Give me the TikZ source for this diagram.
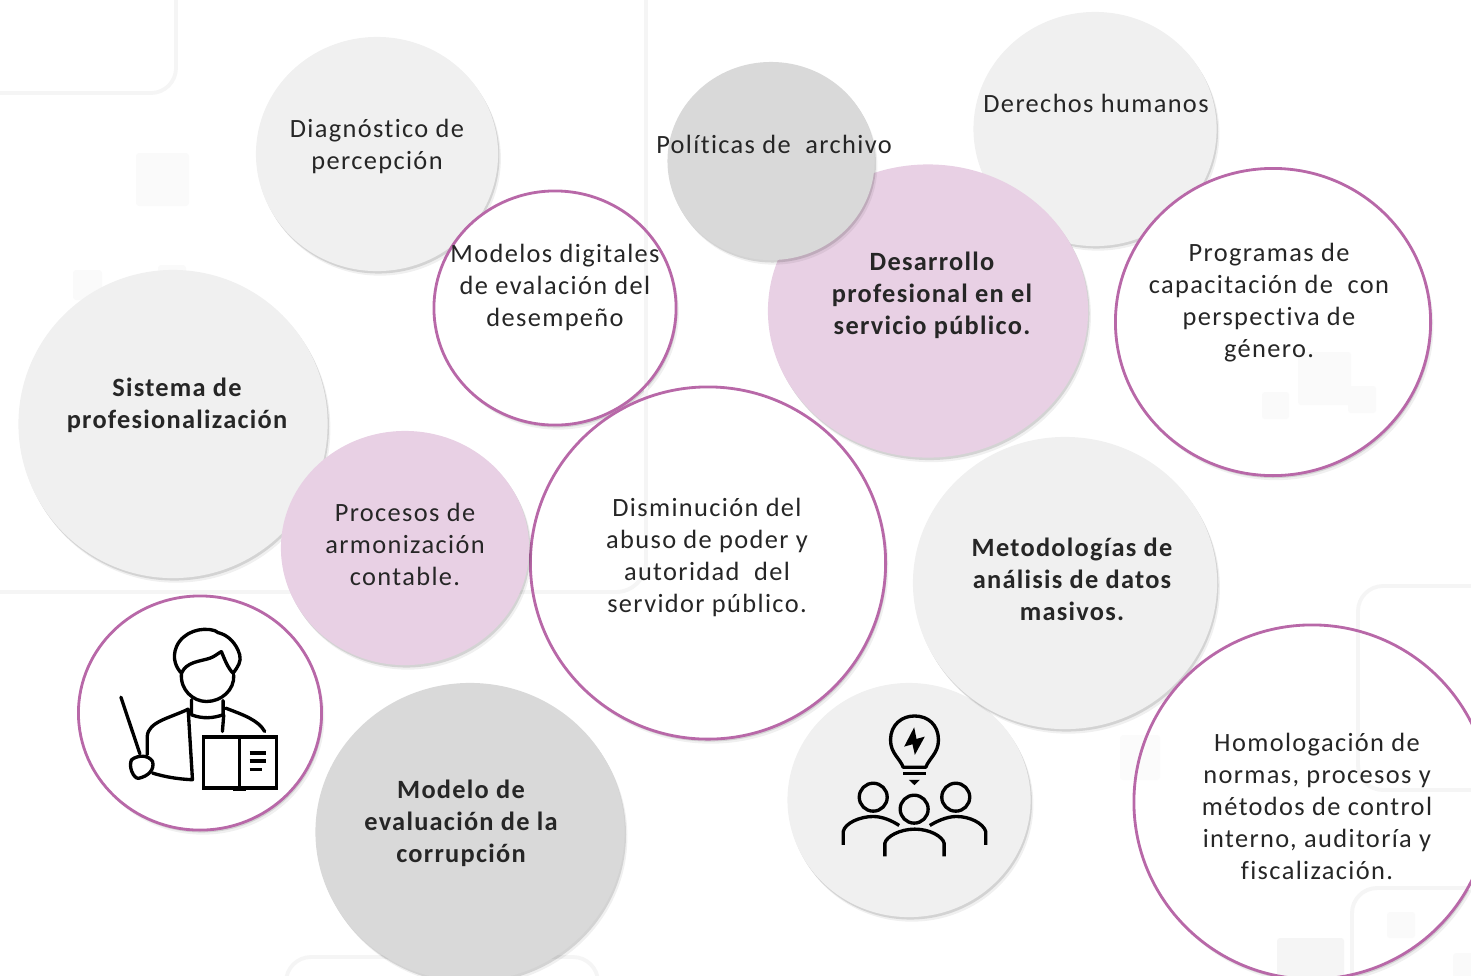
\documentclass[tikz,border=0pt]{standalone}
\usepackage{fontspec}
\setmainfont[LetterSpace=5.2,Ligatures=CommonOff,BoldFeatures={LetterSpace=4.8}]{Carlito}
\usetikzlibrary{shapes}
\usetikzlibrary{shadows}
\definecolor{bubgray}{HTML}{F0F0F0}
\definecolor{bubdark}{HTML}{D9D9D9}
\definecolor{bubpink}{HTML}{E8D0E4}
\definecolor{bubline}{HTML}{B868A8}
\definecolor{txtdark}{HTML}{262626}
\tikzset{
    softshadow/.style = {drop shadow={shadow xshift=.8pt,shadow yshift=-1.3pt,opacity=.06,fill=black},
                         drop shadow={shadow xshift=.4pt,shadow yshift=-.7pt,opacity=.12,fill=black}},
    bub/.style = {ellipse, inner sep=0pt, softshadow},
    bubg/.style = {bub, fill=bubgray},
    bubd/.style = {bub, fill=bubdark},
    bubp/.style = {bub, fill=bubpink},
    bubw/.style = {bub, fill=white},
    ring/.style = {ellipse, inner sep=0pt, draw=bubline, line width=.8pt},
    txt/.style = {align=center, inner sep=0pt, text=txtdark, font=\fontsize{7.5}{9.1}\selectfont},
    txtb/.style = {txt, font=\fontsize{7.5}{9.1}\selectfont\bfseries},
    bgline/.style = {draw=black!4, line width=1.1pt, rounded corners=.25cm},
    bgbox/.style = {fill=black!2, rounded corners=.03cm},
    icon/.style = {draw=black, line width=.95pt, line cap=round, line join=round},
    digisize/.style = {minimum width=2.42cm, minimum height=2.34cm},
    progsize/.style = {minimum width=3.15cm, minimum height=3.07cm},
    dismsize/.style = {minimum width=3.55cm, minimum height=3.52cm},
    homosize/.style = {minimum width=3.56cm, minimum height=3.54cm}
}
\newcommand{\bigcorner}{\path[bgline, rounded corners=.3cm] (-20,592) -- (646,592) -- (646,-20);}

\begin{document}
\begin{tikzpicture}[x=0.01cm,y=-0.01cm]
\useasboundingbox (0,0) rectangle (1471,975);
% background
\path[bgline] (-20,93) -- (176,93) -- (176,-20);
\path[bgline] (286,985) -- (286,957) -- (598,957) -- (598,985);
\fill[bgbox] (136,153) rectangle (189,206);
\fill[bgbox] (73,270) rectangle (102,300);
\fill[bgbox] (158,265) rectangle (186,280);
%
\node[bubg, minimum width=2.42cm, minimum height=2.34cm] at (377,154) (diag) {};
\node[bubw, digisize] at (555,308) (digi) {};
\bigcorner
\node[ring, digisize] at (555,308) (digir) {};
\node[bubg, minimum width=2.43cm, minimum height=2.34cm] at (1095,129) (dere) {};
\node[bubp, minimum width=3.20cm, minimum height=2.93cm] at (928,311) (desa) {};
\node[bubd, minimum width=2.07cm, minimum height=1.98cm] at (771,161) (poli) {};
\node[bubw, progsize] at (1273,322) (prog) {};
\fill[bgbox] (1298,352) rectangle (1351,405);
\fill[bgbox] (1262,392) rectangle (1289,419);
\fill[bgbox] (1348,386) rectangle (1376,413);
\node[ring, progsize] at (1273,322) (progr) {};
\node[bubg, minimum width=3.09cm, minimum height=3.08cm] at (173,424) (sist) {};
\node[bubg, minimum width=2.43cm, minimum height=2.34cm] at (909,800) (idea) {};
\node[bubw, dismsize] at (708,563) (dism) {};
\begin{scope}
\clip (708,563) ellipse (177.5 and 176);
\bigcorner
\end{scope}
\node[ring, dismsize] at (708,563) (dismr) {};
\node[bubp, minimum width=2.48cm, minimum height=2.34cm] at (405,548) (proc) {};
\node[bubg, minimum width=3.04cm, minimum height=2.92cm] at (1065,583) (meto) {};
\node[bubw, homosize] at (1312,802) (homo) {};
\fill[bgbox, fill=black!1.5] (1120,735) rectangle (1160,780);
\path[bgline] (1480,586) -- (1358,586) -- (1358,790) -- (1480,790);
\path[bgline] (1480,888) -- (1352,888) -- (1352,985);
\fill[bgbox] (1387,912) rectangle (1415,938);
\fill[bgbox] (1453,953) rectangle (1480,985);
\fill[bgbox, fill=black!4] (1277,938) rectangle (1344,985);
\node[ring, homosize] at (1312,802) (homor) {};
\node[bubw, digisize, minimum width=2.43cm] at (200,713) (doce) {};
\node[ring, digisize, minimum width=2.43cm] at (200,713) (docer) {};
\node[bubd, minimum width=3.09cm, minimum height=2.98cm] at (470,832) (mode) {};
%
\node[txt] at (377,146) (diagt) {Diagnóstico de\\percepción};
\node[txt] at (555,287) (digit) {Modelos digitales\\de evalación del\\desempeño};
\node[txt] at (774,144) (polit) {Políticas de\ \ archivo};
\node[txt] at (1096,103) (deret) {Derechos humanos};
\node[txtb] at (932,295) (desat) {Desarrollo\\profesional en el\\servicio público.};
\node[txt] at (1269,303) (progt) {Programas de\\capacitación de\ \ con\\perspectiva de\\género.};
\node[txtb] at (177,405) (sistt) {Sistema de\\profesionalización};
\node[txt] at (405,544) (proct) {Procesos de\\armonización\\contable.};
\node[txt] at (707,557) (dismt) {Disminución del\\abuso de poder y\\autoridad\ \ del\\servidor público.};
\node[txtb] at (1072,579) (metot) {Metodologías de\\análisis de datos\\masivos.};
\node[txt] at (1317,806) (homot) {Homologación de\\normas, procesos y\\métodos de control\\interno, auditoría y\\fiscalización.};
\node[txtb] at (461,823) (modet) {Modelo de\\evaluación de la\\corrupción};
% person with book
\begin{scope}[shift={(70,590)},x=0.00333cm,y=-0.00333cm]
\draw[icon] (335,250) .. controls (350,215) and (390,215) .. (420,205) .. controls (435,200) and (445,190) .. (455,185) .. controls (465,210) and (475,235) .. (490,250) .. controls (505,230) and (515,215) .. (510,195) .. controls (500,160) and (475,135) .. (445,128) -- (435,122) .. controls (395,110) and (340,125) .. (320,170) .. controls (305,205) and (320,235) .. (335,250) .. controls (330,300) and (370,335) .. (410,335) .. controls (455,335) and (495,300) .. (492,255);
\draw[icon] (365,330) -- (365,375) .. controls (400,388) and (430,385) .. (460,375) -- (460,332);
\draw[icon] (355,358) .. controls (300,385) and (235,395) .. (232,440) -- (232,495);
\draw[icon] (355,358) -- (368,570) .. controls (320,568) and (280,560) .. (248,550);
\draw[icon] (462,375) -- (458,425);
\draw[icon] (468,355) .. controls (520,375) and (565,390) .. (585,425);
\draw[icon] (153,322) -- (210,492);
\draw[icon] (185,510) .. controls (205,495) and (235,495) .. (248,515) .. controls (255,540) and (235,560) .. (205,566) .. controls (190,565) and (175,530) .. (185,510) -- cycle;
\draw[icon,line cap=butt,line join=miter] (402,442) rectangle (620,595);
\draw[icon,line cap=butt] (510,442) -- (510,600);
\draw[icon,line cap=butt] (490,598) -- (530,598);
\draw[icon,line cap=butt] (540,490) -- (588,490);
\draw[icon,line cap=butt] (540,514) -- (588,514);
\draw[icon,line cap=butt] (540,540) -- (576,540);
\end{scope}
% bulb and people
\begin{scope}[shift={(800,690)},x=0.00333cm,y=-0.00333cm]
\draw[icon] (310,232) .. controls (300,205) and (272,190) .. (272,150) .. controls (272,105) and (305,78) .. (344,78) .. controls (385,78) and (416,105) .. (416,150) .. controls (416,190) and (388,205) .. (378,232) -- cycle;
\draw[icon,line cap=butt] (310,250) -- (380,250);
\fill (327,270) -- (360,270) -- (344,286) -- cycle;
\fill (343,112) -- (313,170) -- (338,163) -- (345,195) -- (375,140) -- (350,147) -- cycle;
\foreach \cx/\cy in {220/322,343/358,468/322}
  \draw[icon] (\cx,\cy) ellipse (42 and 42);
\draw[icon,line cap=butt] (130,465) -- (130,425) .. controls (135,400) and (180,380) .. (220,380) .. controls (250,380) and (280,395) .. (298,407);
\draw[icon,line cap=butt] (558,465) -- (558,425) .. controls (550,400) and (510,380) .. (470,380) .. controls (440,380) and (410,395) .. (390,407);
\draw[icon,line cap=butt] (255,500) -- (255,460) .. controls (260,440) and (300,418) .. (345,418) .. controls (390,418) and (428,440) .. (433,460) -- (433,500);
\end{scope}
\end{tikzpicture}
\end{document}
